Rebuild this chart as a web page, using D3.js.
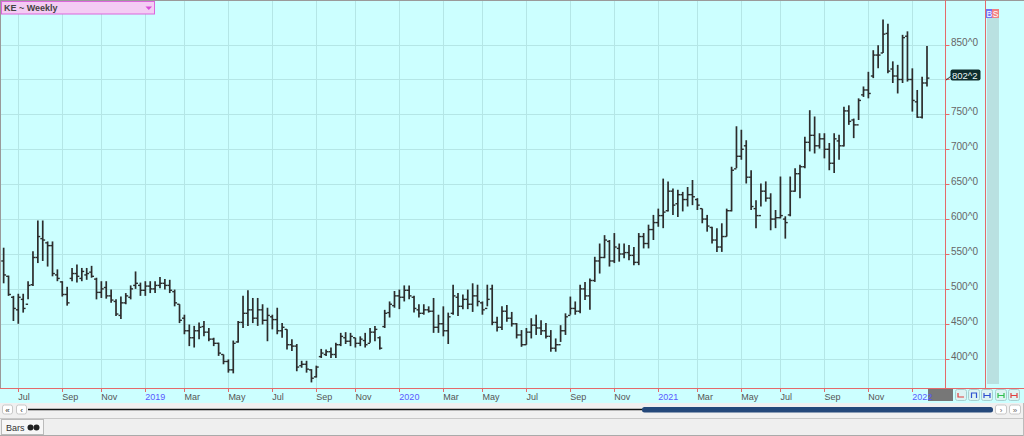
<!DOCTYPE html>
<html><head><meta charset="utf-8">
<script src="https://cdn.jsdelivr.net/npm/d3@7"></script>
<style>
html,body{margin:0;padding:0;background:#fff;overflow:hidden}
svg{display:block;font-family:"Liberation Sans",Arial,sans-serif}
</style></head><body>
<svg id="c" width="1024" height="436"></svg>
<script>
// ---------------- DATA ----------------
const firstWeek = "2018-06-15";   // weekly bars (Fridays)
const lastWeek  = "2022-01-28";
const highs = [
559,519,490,493,493,511,554,598,598,568,
568,528,511,503,530,535,530,530,533,516,
511,511,499,485,489,494,505,525,509,511,
511,511,517,514,513,499,478,463,449,447,
452,454,444,430,423,406,399,426,454,490,
498,487,487,478,473,463,473,451,442,428,
421,397,397,385,390,414,413,416,423,437,
438,437,430,432,437,444,447,432,470,482,
497,499,505,505,490,478,478,475,487,463,
475,466,506,494,492,499,508,506,482,506,
506,460,475,477,467,451,441,444,458,463,
455,451,441,429,448,465,489,482,506,510,
515,546,565,577,570,580,565,565,563,560,
580,580,592,606,615,658,654,644,642,639,
646,656,630,615,606,589,587,594,615,675,
733,728,713,670,627,651,654,637,613,661,
604,661,673,678,718,756,747,723,723,709,
723,721,761,763,744,773,790,811,842,849,
886,880,826,821,864,869,816,785,804,848];
const lows = [
508,490,454,450,466,485,504,537,540,532,
518,511,489,476,511,509,511,513,516,485,
487,486,480,461,457,478,485,500,490,490,
494,494,501,499,494,475,451,435,418,416,
428,432,425,418,404,392,380,379,423,444,
447,451,447,449,425,442,435,430,413,411,
382,387,380,366,373,401,404,401,401,418,
421,418,416,418,416,423,425,413,444,459,
473,471,482,485,466,459,463,466,437,437,
432,421,463,461,471,471,467,475,463,475,
448,439,441,453,446,429,417,420,429,434,
434,429,410,410,424,434,463,463,465,484,
470,510,522,544,532,537,539,544,541,534,
534,558,558,570,589,587,611,606,603,611,
618,620,613,594,582,565,553,553,575,611,
673,685,651,613,587,618,625,584,587,601,
572,604,639,630,673,697,694,701,687,670,
666,685,704,735,716,742,775,773,802,816,
838,809,795,780,795,797,754,745,744,790];
const opens = [
540,518,488,470,485,478,506,545,572,566,
562,520,510,492,515,522,515,520,524,514,
495,502,490,482,462,480,488,505,505,498,
504,500,505,508,505,496,478,458,440,430,
440,446,438,428,422,406,396,384,424,452,
465,470,458,470,455,460,456,440,442,420,
418,390,392,384,374,403,406,410,406,420,
430,425,430,422,426,422,438,430,446,466,
476,490,488,498,488,470,465,470,468,445,
450,440,465,488,475,485,478,490,480,472,
500,452,445,468,458,450,434,420,438,448,
444,440,432,415,420,440,462,472,468,500,
490,512,540,545,568,540,558,550,552,548,
538,575,565,585,595,605,612,640,622,635,
628,635,628,615,600,588,570,560,575,612,
672,690,705,660,615,605,640,630,600,602,
600,606,640,665,675,710,720,705,715,700,
680,712,705,755,742,735,778,785,805,835,
838,866,815,805,800,862,800,768,746,795];
const closes = [
520,492,472,488,472,505,545,575,570,562,
522,515,492,480,522,518,525,522,518,495,
500,490,484,464,480,490,500,508,498,504,
500,505,508,505,498,480,455,440,430,440,
445,438,428,422,408,396,384,422,452,465,
470,458,470,455,462,456,440,445,420,418,
388,392,385,372,388,408,410,406,420,432,
425,432,422,428,420,438,442,415,465,478,
490,488,498,490,472,465,470,468,445,450,
440,460,490,475,485,478,490,482,470,485,
452,445,468,458,450,434,420,438,448,444,
440,432,415,420,440,460,472,468,500,490,
512,540,545,570,540,560,550,552,548,538,
575,565,585,595,605,610,640,620,635,628,
635,632,620,600,590,570,560,575,612,670,
690,700,660,618,605,640,630,600,602,605,
595,640,665,675,710,720,705,715,700,680,
715,705,755,740,735,770,785,780,835,835,
865,812,805,800,860,800,770,746,795,802];
const priceTicks = [400,450,500,550,600,650,700,750,800,850];
const tickDates  = ["2018-07-06","2018-09-07","2018-11-02","2019-01-04","2019-03-01","2019-05-03",
  "2019-07-05","2019-09-06","2019-11-01","2020-01-03","2020-03-06","2020-05-01","2020-07-03",
  "2020-09-04","2020-11-06","2021-01-08","2021-03-05","2021-05-07","2021-07-02","2021-09-03",
  "2021-11-05","2022-01-07"];
const tickLabels = ["Jul","Sep","Nov","2019","Mar","May","Jul","Sep","Nov","2020","Mar","May","Jul",
  "Sep","Nov","2021","Mar","May","Jul","Sep","Nov","2022"];
const titleText = "KE ~ Weekly";
const lastPrice = 802;
const lastLabel = "802^2";

// ---------------- CHART ----------------
const svg = d3.select("#c");
const W = 1024;
const plotL = 1, plotR = 945, plotB = 388;
const parse = d3.utcParse("%Y-%m-%d");
const d0 = parse(firstWeek);
const dates = highs.map((_, i) => d3.utcDay.offset(d0, 7 * i));

const x = d3.scaleUtc().domain([d0, parse(lastWeek)]).range([3.65, 927]);
const y = d3.scaleLinear().domain([358, 913.9]).range([plotB, 0]);

const cyan = "#CCFFFF", grid = "#B4E6E6", red = "#E46A6A";

svg.append("rect").attr("x",0).attr("y",0).attr("width",W).attr("height",403).attr("fill",cyan);

// gridlines
const g = svg.append("g");
g.selectAll(".hg").data(priceTicks).join("line")
  .attr("x1",plotL).attr("x2",plotR)
  .attr("y1",d=>Math.round(y(d))+0.5).attr("y2",d=>Math.round(y(d))+0.5)
  .attr("stroke",grid).attr("stroke-width",1);
g.selectAll(".vg").data(tickDates).join("line")
  .attr("x1",d=>Math.round(x(parse(d)))+0.5).attr("x2",d=>Math.round(x(parse(d)))+0.5)
  .attr("y1",0).attr("y2",plotB)
  .attr("stroke",grid).attr("stroke-width",1);

// OHLC bars
const bars = svg.append("g").attr("stroke","#2c2c2c").attr("fill","none");
const idx = d3.range(highs.length);
bars.selectAll(".hl").data(idx).join("line")
  .attr("x1",i=>x(dates[i])).attr("x2",i=>x(dates[i]))
  .attr("y1",i=>y(highs[i])).attr("y2",i=>y(lows[i]))
  .attr("stroke-width",1.7);
bars.selectAll(".op").data(idx).join("line")
  .attr("x1",i=>x(dates[i])-2.4).attr("x2",i=>x(dates[i]))
  .attr("y1",i=>y(opens[i])).attr("y2",i=>y(opens[i]))
  .attr("stroke-width",1.4);
bars.selectAll(".cl").data(idx).join("line")
  .attr("x1",i=>x(dates[i])).attr("x2",i=>x(dates[i])+2.4)
  .attr("y1",i=>y(closes[i])).attr("y2",i=>y(closes[i]))
  .attr("stroke-width",1.4);

// borders
svg.append("line").attr("x1",0).attr("x2",W).attr("y1",0.5).attr("y2",0.5).attr("stroke","#9a9a9a");
svg.append("line").attr("x1",0.5).attr("x2",0.5).attr("y1",0).attr("y2",plotB).attr("stroke","#9a9a9a");

// right price axis
svg.append("line").attr("x1",945.5).attr("x2",945.5).attr("y1",0).attr("y2",plotB).attr("stroke",red);
svg.append("line").attr("x1",985.5).attr("x2",985.5).attr("y1",0).attr("y2",plotB).attr("stroke",red);
svg.append("rect").attr("x",987).attr("y",18).attr("width",12).attr("height",366).attr("fill","#B9E1E1");
const ya = svg.append("g");
ya.selectAll("line").data(priceTicks).join("line")
  .attr("x1",945.5).attr("x2",949.5)
  .attr("y1",d=>Math.round(y(d))+0.5).attr("y2",d=>Math.round(y(d))+0.5)
  .attr("stroke",red).attr("stroke-width",1);
// the label of the level hidden behind the last-price box is not drawn
ya.selectAll("text").data(priceTicks.filter(d=>Math.abs(d-lastPrice)>=15)).join("text")
  .attr("x",951).attr("y",d=>y(d)+1)
  .attr("font-size",10).attr("fill","#666")
  .text(d=>d+"^0");

// last price marker
const ly = y(lastPrice);
svg.append("line").attr("x1",945.5).attr("x2",949.5).attr("y1",ly+1).attr("y2",ly+1).attr("stroke",red);
svg.append("line").attr("x1",946).attr("x2",951).attr("y1",ly+2).attr("y2",ly-2).attr("stroke","#333");
svg.append("rect").attr("x",950.5).attr("y",ly-8.5).attr("width",30).attr("height",11).attr("rx",2)
  .attr("fill","#0E2E2E");
svg.append("text").attr("x",952).attr("y",ly+0.5).attr("font-size",9.5).attr("fill","#E8F4F4").text(lastLabel);

// B / S
svg.append("rect").attr("x",986).attr("y",9).attr("width",6).attr("height",9).attr("fill","#7373F5");
svg.append("rect").attr("x",992).attr("y",9).attr("width",7).attr("height",9).attr("fill","#F08080");
svg.append("text").attr("x",986.5).attr("y",17).attr("font-size",8.5).attr("fill","#fff").text("B");
svg.append("text").attr("x",992.8).attr("y",17).attr("font-size",8.5).attr("fill","#fff").text("S");

// x axis
svg.append("line").attr("x1",0).attr("x2",W).attr("y1",388.5).attr("y2",388.5).attr("stroke",red);
svg.append("rect").attr("x",928).attr("y",389).attr("width",25).attr("height",12).attr("fill","#777");
const xa = svg.append("g");
xa.selectAll("line").data(tickDates).join("line")
  .attr("x1",d=>Math.round(x(parse(d)))+0.5).attr("x2",d=>Math.round(x(parse(d)))+0.5)
  .attr("y1",388).attr("y2",392).attr("stroke",red);
xa.selectAll("text").data(tickDates).join("text")
  .attr("x",d=>x(parse(d))).attr("y",399.5)
  .attr("font-size",9).attr("fill",(d,i)=>/^\d/.test(tickLabels[i])?"#5858FF":"#555")
  .text((d,i)=>tickLabels[i]);

// small icon buttons
const iconX = [955,968,981,995,1008];
const iconC = ["#E04040","#3050D0","#3050D0","#30C050","#E04040"];
iconX.forEach((ix,k)=>{
  svg.append("rect").attr("x",ix+0.5).attr("y",389.5).attr("width",11).attr("height",11).attr("rx",2)
    .attr("fill","#DDF3F3").attr("stroke","#A8CFCF");
  const c = iconC[k];
  const gg = svg.append("g").attr("stroke",c).attr("fill","none").attr("stroke-width",1.2);
  if(k===0){ gg.append("path").attr("d",`M${ix+3},${393} V${397} H${ix+9}`); }
  else if(k===1){ gg.append("path").attr("d",`M${ix+3.5},${398} V${393} H${ix+8.5} V${398}`); }
  else { gg.append("path").attr("d",`M${ix+3},${393} V${398} M${ix+9},${393} V${398} M${ix+3},${395.5} H${ix+9}`); }
});

// scrollbar row
svg.append("rect").attr("x",0).attr("y",403).attr("width",W).attr("height",15).attr("fill","#F0F0F0");
[[2.5,"«"],[16.5,"‹"]].forEach(([bx,t])=>{
  svg.append("rect").attr("x",bx).attr("y",405).attr("width",10).attr("height",9).attr("rx",2)
    .attr("fill","#fff").attr("stroke","#C8C8C8");
  svg.append("text").attr("x",bx+5).attr("y",412.5).attr("text-anchor","middle").attr("font-size",8).attr("fill","#333").text(t);
});
[[995.5,"›"],[1009.5,"»"]].forEach(([bx,t])=>{
  svg.append("rect").attr("x",bx).attr("y",405).attr("width",11).attr("height",9).attr("rx",2)
    .attr("fill","#fff").attr("stroke","#C8C8C8");
  svg.append("text").attr("x",bx+5.5).attr("y",412.5).attr("text-anchor","middle").attr("font-size",8).attr("fill","#666").text(t);
});
svg.append("line").attr("x1",28).attr("x2",645).attr("y1",409.5).attr("y2",409.5).attr("stroke","#111").attr("stroke-width",1.6);
svg.append("rect").attr("x",642).attr("y",407).attr("width",351).attr("height",5.5).attr("rx",2.5).attr("fill","#24487A");

// bottom tab row
svg.append("rect").attr("x",0).attr("y",418).attr("width",W).attr("height",18).attr("fill","#EFEFEF");
svg.append("line").attr("x1",0).attr("x2",W).attr("y1",418.5).attr("y2",418.5).attr("stroke","#C8C8C8");
svg.append("line").attr("x1",0).attr("x2",W).attr("y1",435.5).attr("y2",435.5).attr("stroke","#AAAAAA");
svg.append("rect").attr("x",1.5).attr("y",419.5).attr("width",42).attr("height",15).attr("fill","#F7F7F7").attr("stroke","#BBBBBB");
svg.append("text").attr("x",6).attr("y",431).attr("font-size",9).attr("fill","#333").text("Bars");
svg.append("circle").attr("cx",30.5).attr("cy",427.5).attr("r",3).attr("fill","#222");
svg.append("circle").attr("cx",36.5).attr("cy",427.5).attr("r",3).attr("fill","#222");
svg.append("line").attr("x1",1023.5).attr("x2",1023.5).attr("y1",403).attr("y2",436).attr("stroke","#BBBBBB");

// title box
svg.append("rect").attr("x",1.5).attr("y",1.5).attr("width",153).attr("height",12.5)
  .attr("fill","#F4CCF4").attr("stroke","#DC66DC");
svg.append("text").attr("x",4).attr("y",11).attr("font-size",9).attr("font-weight","bold").attr("fill","#444").text(titleText);
svg.append("path").attr("d","M145.5,6.5 L152,6.5 L148.75,10 Z").attr("fill","#D84AD8");
</script>
</body></html>
